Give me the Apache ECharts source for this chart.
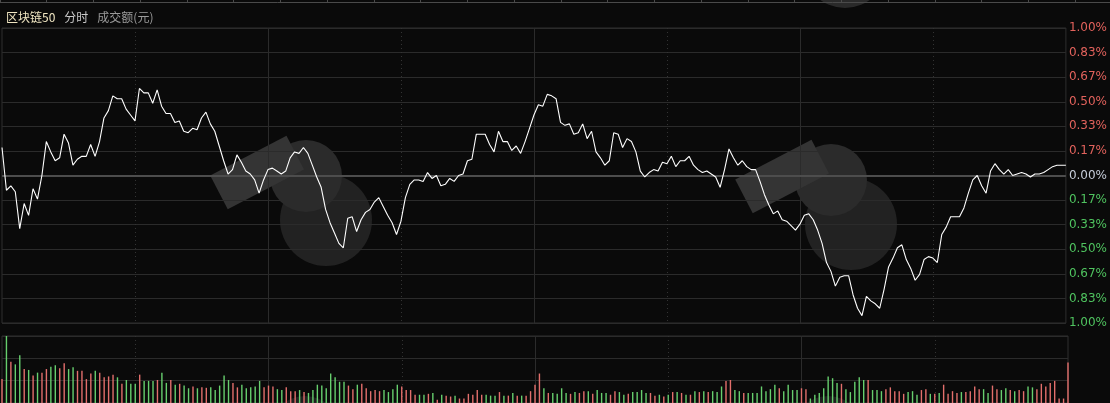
<!DOCTYPE html>
<html>
<head>
<meta charset="utf-8">
<script src="https://cdn.jsdelivr.net/npm/echarts@6/dist/echarts.min.js"></script>
<style>
  html, body { margin: 0; padding: 0; background: #0a0a0a; }
  #main { width: 1110px; height: 403px; }
</style>
</head>
<body>
<div id="main"></div>
<script>
// 分时涨跌幅 (%)，09:30 - 15:00 共 241 个点
const pctChange = [
  0.19,-0.10,-0.07,-0.11,-0.36,-0.19,-0.27,-0.09,-0.16,0.00,
  0.23,0.16,0.10,0.12,0.28,0.22,0.07,0.11,0.13,0.13,
  0.21,0.13,0.23,0.39,0.44,0.54,0.52,0.52,0.45,0.41,
  0.37,0.59,0.56,0.56,0.49,0.58,0.47,0.42,0.42,0.36,
  0.37,0.30,0.29,0.32,0.31,0.39,0.43,0.35,0.30,0.20,
  0.10,0.01,0.04,0.14,0.09,0.03,0.01,-0.03,-0.12,-0.03,
  0.04,0.05,0.03,0.01,0.03,0.12,0.16,0.15,0.19,0.15,
  0.07,-0.01,-0.08,-0.23,-0.32,-0.39,-0.46,-0.49,-0.29,-0.28,
  -0.38,-0.30,-0.25,-0.23,-0.18,-0.15,-0.21,-0.27,-0.32,-0.40,
  -0.31,-0.15,-0.06,-0.03,-0.03,-0.04,0.02,-0.02,0.00,-0.07,
  -0.06,-0.02,-0.04,0.00,0.01,0.10,0.11,0.28,0.28,0.28,
  0.21,0.16,0.30,0.23,0.23,0.17,0.20,0.15,0.23,0.32,
  0.41,0.48,0.47,0.55,0.54,0.52,0.36,0.34,0.35,0.28,
  0.29,0.35,0.25,0.30,0.16,0.12,0.07,0.10,0.29,0.28,
  0.19,0.25,0.23,0.16,0.03,-0.01,0.02,0.04,0.03,0.09,
  0.08,0.13,0.06,0.10,0.10,0.13,0.07,0.04,0.02,0.03,
  0.01,-0.01,-0.08,0.04,0.18,0.12,0.07,0.10,0.06,0.04,
  0.04,-0.04,-0.13,-0.20,-0.26,-0.24,-0.30,-0.31,-0.34,-0.37,
  -0.33,-0.27,-0.26,-0.30,-0.37,-0.46,-0.59,-0.65,-0.75,-0.69,
  -0.68,-0.68,-0.81,-0.90,-0.95,-0.82,-0.85,-0.87,-0.90,-0.77,
  -0.62,-0.56,-0.49,-0.47,-0.57,-0.63,-0.71,-0.67,-0.57,-0.55,
  -0.56,-0.59,-0.40,-0.35,-0.28,-0.28,-0.28,-0.22,-0.12,-0.03,
  0.00,-0.07,-0.12,0.03,0.08,0.04,0.01,0.04,0.00,0.01,
  0.02,0.01,-0.01,0.01,0.01,0.02,0.04,0.06,0.07,0.07,
  0.07
];

// 成交额（相对值）
const volume = [
  107,300,185,173,214,152,148,123,136,136,
  152,162,169,156,178,152,160,144,144,107,
  132,144,136,115,119,127,115,86,103,86,
  86,127,99,99,99,103,136,90,103,82,
  86,78,66,74,66,70,68,70,58,78,
  123,103,90,70,82,66,70,74,99,70,
  78,74,62,58,70,53,53,58,49,45,
  58,82,78,66,132,115,95,95,78,62,
  82,86,66,53,58,53,58,49,62,82,
  74,58,58,37,37,37,41,45,15,37,
  33,29,33,20,20,41,37,58,37,37,
  33,33,49,33,33,45,33,33,33,53,
  82,132,66,45,45,41,66,45,41,49,
  45,53,53,41,58,45,45,37,53,49,
  37,41,49,49,58,45,45,33,37,29,
  37,49,49,45,37,37,53,49,53,49,
  53,49,74,99,103,58,53,45,45,45,
  45,74,53,62,82,66,53,82,58,58,
  66,62,20,37,45,66,119,111,90,86,
  62,49,95,115,103,103,58,58,53,62,
  70,53,53,41,49,53,37,58,62,41,
  41,45,82,41,53,45,49,49,53,74,
  62,62,45,78,62,58,66,58,53,58,
  53,74,70,62,86,74,90,99,20,20,
  181
];

// 每根量柱的颜色 r=红(涨) g=绿(跌)
const volDir = (
  'rgrggrgrgr' + 'rggrrggrrr' + 'rgrrrrgrgg' + 'grgggrggrg' +
  'rggrgrrggg' + 'ggrrgggggr' + 'rrggrrrgrg' + 'ggggggggrr' +
  'grrrrrgggg' + 'rrrrggrgrg' + 'rrgrrrrrrg' + 'ggrgrgrgrr' +
  'rrgrggggrg' + 'rrgrgggrrg' + 'grggggrrgr' + 'grgrgrgrgr' +
  'gggrrggrgg' + 'gggggrgggg' + 'rrgggggggr' + 'gggggrgggr' +
  'rrrrgggrrg' + 'rgrrrrgrrr' + 'rggrrggrgr' + 'rggrrrrrrr' + 'r'
).split('');

const priceTicks = [-1, 1];   // 涨跌幅坐标范围 (%)
const volumeMax = 300;

// 时间轴：09:30-11:30, 13:01-15:00
function buildTimes() {
  const out = [];
  const pad = n => (n < 10 ? '0' : '') + n;
  for (let m = 9 * 60 + 30; m <= 11 * 60 + 30; m++) out.push(pad(Math.floor(m / 60)) + ':' + pad(m % 60));
  for (let m = 13 * 60 + 1; m <= 15 * 60; m++) out.push(pad(Math.floor(m / 60)) + ':' + pad(m % 60));
  return out;
}
const times = buildTimes();

const RED = '#e2625c';
const GREEN = '#4fc35f';
const BAR_RED = '#e36f6c';
const BAR_GREEN = '#67cf6e';
const GRID_LINE = '#2b2b2b';

let myChart = echarts.init(document.getElementById('main'));

// 水印 logo（大致形状）
function logo(cx, cy) {
  return [
    { type: 'circle', z: -5, silent: true, shape: { cx: cx + 28, cy: cy + 48, r: 46 }, style: { fill: '#222222' } },
    { type: 'circle', z: -4, silent: true, shape: { cx: cx + 8, cy: cy + 4, r: 36 }, style: { fill: '#2b2b2b' } },
    { type: 'rect', z: -3, silent: true, x: cx - 40, y: cy, rotation: 0.48,
      shape: { x: -44, y: -19, width: 86, height: 38 }, style: { fill: '#343434' } }
  ];
}

const graphics = [].concat(
  logo(298, 172),
  logo(823, 176),
  [
    { type: 'circle', z: -5, silent: true, shape: { cx: 845, cy: -34, r: 42 }, style: { fill: '#2a2a2a' } },
    { type: 'circle', z: -5, silent: true, shape: { cx: 305, cy: 432, r: 36 }, style: { fill: '#1f1f1f' } },
    { type: 'circle', z: -5, silent: true, shape: { cx: 828, cy: 432, r: 36 }, style: { fill: '#1f1f1f' } }
  ]
);

myChart.setOption({
  backgroundColor: '#0a0a0a',
  animation: false,
  title: {
    left: 1,
    top: 3,
    text: '{a|区块链50} {b|分时} {c|成交额(元)}',
    textStyle: {
      fontWeight: 'normal',
      rich: {
        a: { color: '#f0e6c2', fontSize: 12, fontWeight: 'normal', fontFamily: 'Noto Sans CJK SC' },
        b: { color: '#c9c9c9', fontSize: 12, fontWeight: 'normal', fontFamily: 'Noto Sans CJK SC', padding: [0, 0, 0, 4] },
        c: { color: '#9a9a9a', fontSize: 12, fontWeight: 'normal', fontFamily: 'Noto Sans CJK SC', padding: [0, 0, 0, 4] }
      }
    }
  },
  graphic: graphics,
  grid: [
    { left: 2, right: 42, top: 28, height: 295, show: true, borderColor: '#2e2e2e', backgroundColor: 'transparent' },
    { left: 2, right: 42, top: 336, height: 73, show: true, borderColor: '#2e2e2e', backgroundColor: 'transparent' },
    { left: -6, width: 1116, top: -5, height: 7 }
  ],
  xAxis: [
    {
      gridIndex: 0, type: 'category', data: times, boundaryGap: false,
      axisLine: { show: false }, axisTick: { show: false }, axisLabel: { show: false },
      splitLine: { show: true, interval: (i) => i > 0 && i < 240 && i % 60 === 0, lineStyle: { color: GRID_LINE } }
    },
    {
      gridIndex: 0, type: 'category', data: times, boundaryGap: false,
      axisLine: { show: false }, axisTick: { show: false }, axisLabel: { show: false },
      splitLine: { show: true, interval: (i) => i % 60 === 30, lineStyle: { color: '#333', type: [1, 3] } }
    },
    {
      gridIndex: 1, type: 'category', data: times, boundaryGap: false,
      axisLine: { show: false }, axisTick: { show: false }, axisLabel: { show: false },
      splitLine: { show: true, interval: (i) => i > 0 && i < 240 && i % 60 === 0, lineStyle: { color: GRID_LINE } }
    },
    {
      gridIndex: 1, type: 'category', data: times, boundaryGap: false,
      axisLine: { show: false }, axisTick: { show: false }, axisLabel: { show: false },
      splitLine: { show: true, interval: (i) => i % 60 === 30, lineStyle: { color: '#333', type: [1, 3] } }
    },
    {
      gridIndex: 2, type: 'value', min: 0, max: 1116, interval: 47, position: 'bottom',
      axisLine: { show: true, lineStyle: { color: '#4a4a4a' } },
      axisTick: { show: true, inside: true, length: 3, lineStyle: { color: '#4a4a4a' } },
      axisLabel: { show: false }, splitLine: { show: false }
    }
  ],
  yAxis: [
    {
      gridIndex: 0, type: 'value', position: 'right',
      min: priceTicks[0], max: priceTicks[1], interval: 1 / 6,
      axisLine: { show: false }, axisTick: { show: false },
      axisLabel: {
        margin: 3,
        align: 'left',
        fontSize: 12,
        fontFamily: 'DejaVu Sans',
        formatter: v => Math.abs(v).toFixed(2) + '%',
        color: v => (v > 1e-6 ? RED : (v < -1e-6 ? GREEN : '#c5ccd8'))
      },
      splitLine: { show: true, lineStyle: { color: GRID_LINE } }
    },
    {
      gridIndex: 1, type: 'value', position: 'right', min: 0, max: volumeMax, interval: 100,
      axisLine: { show: false }, axisTick: { show: false }, axisLabel: { show: false },
      splitLine: { show: true, lineStyle: { color: GRID_LINE } }
    },
    { gridIndex: 2, type: 'value', show: false }
  ],
  series: [
    {
      name: '涨跌幅',
      type: 'line',
      xAxisIndex: 0, yAxisIndex: 0,
      data: pctChange,
      showSymbol: false,
      z: 5,
      lineStyle: { color: '#ffffff', width: 1.1 },
      markLine: {
        silent: true, symbol: 'none', label: { show: false },
        lineStyle: { color: '#4d4d4d', width: 2, type: 'solid' },
        data: [{ yAxis: 0 }]
      }
    },
    {
      name: '成交额',
      type: 'bar',
      xAxisIndex: 2, yAxisIndex: 1,
      barWidth: 1.4,
      data: volume.map((v, i) => ({
        value: v,
        itemStyle: { color: volDir[i] === 'r' ? BAR_RED : BAR_GREEN }
      }))
    }
  ]
});
</script>
</body>
</html>
